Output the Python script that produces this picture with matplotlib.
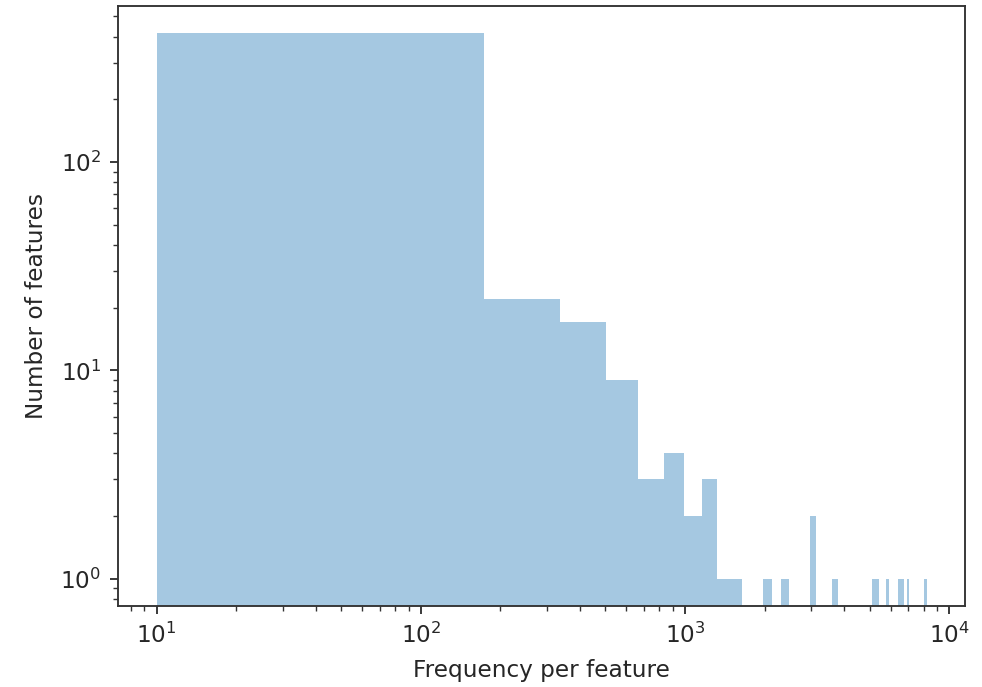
import numpy as np
import matplotlib
matplotlib.use("Agg")
import matplotlib.pyplot as plt

# Histogram data: 50 equal-width bins between bin_min and bin_max
bin_min = 10
bin_max = 8200
n_bins = 50
counts = [414, 22, 17, 9, 3, 4, 2, 3, 1, 1,
          0, 0, 1, 0, 1, 0, 0, 0, 2, 0,
          0, 0, 1, 0, 0, 0, 0, 0, 0, 0,
          0, 1, 1, 0, 0, 1, 0, 0, 0, 1,
          1, 0, 1, 0, 0, 0, 0, 0, 0, 1]

xlabel = "Frequency per feature"
ylabel = "Number of features"

edges = np.linspace(bin_min, bin_max, n_bins + 1)
centers = (edges[:-1] + edges[1:]) / 2

fs = 16.7
plt.rcParams.update({
    "font.size": fs,
    "text.color": "#262626",
    "axes.labelcolor": "#262626",
    "xtick.color": "#333333", "ytick.color": "#333333",
    "xtick.labelcolor": "#262626", "ytick.labelcolor": "#262626",
    "axes.linewidth": 1.36,
    "xtick.major.size": 6, "ytick.major.size": 6,
    "xtick.minor.size": 3.4, "ytick.minor.size": 3.4,
    "xtick.major.width": 1.36, "ytick.major.width": 1.36,
    "xtick.minor.width": 1.0, "ytick.minor.width": 1.0,
    "xtick.major.pad": 6, "ytick.major.pad": 6,
})

fig = plt.figure(figsize=(9.82, 6.87), dpi=100)
ax = fig.add_axes([0.1202, 0.118, 0.8625, 0.873])
ax.hist(centers, bins=edges, weights=counts, log=True, alpha=0.4, color="#1f77b4")
ax.set_xscale("log")
ax.set_xlabel(xlabel, fontsize=fs, labelpad=8)
ax.set_ylabel(ylabel, fontsize=fs, labelpad=9)
for s in ax.spines.values():
    s.set_color("#333333")

fig.savefig("out.png", dpi=100)
